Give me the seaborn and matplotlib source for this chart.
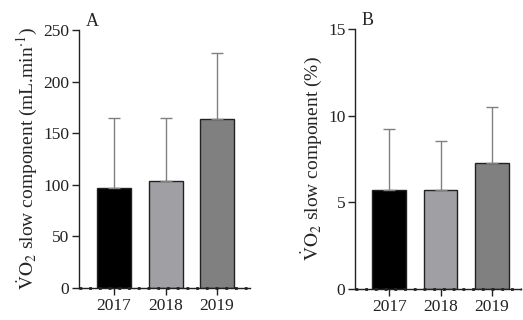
import seaborn as sns
import matplotlib.pyplot as plt
import numpy as np
import pandas as pd

years = ["2017", "2018", "2019"]
colors = ["#000000", "#a0a0a4", "#808080"]

# panel A: absolute slow component (mL.min-1)
abs_mean = [97, 104, 164]
abs_sd = [68, 61, 64]

# panel B: relative slow component (%)
rel_mean = [5.7, 5.7, 7.3]
rel_sd = [3.55, 2.85, 3.2]

sns.set_theme(style="ticks")
plt.rcParams['font.family'] = ['Liberation Serif', 'DejaVu Serif']
plt.rcParams['mathtext.fontset'] = 'stix'

fig = plt.figure(figsize=(5.23, 3.2), dpi=100)
ax_a = fig.add_axes([0.151, 0.100, 0.327, 0.806])
ax_b = fig.add_axes([0.679, 0.097, 0.318, 0.812])


def panel(ax, mean, sd, ylim, yticks, ylabel, letter, xlim):
    df = pd.DataFrame({"year": years, "value": mean})
    sns.barplot(ax=ax, data=df, x="year", y="value", hue="year",
                palette=colors, width=0.66, errorbar=None, legend=False,
                edgecolor="#222222", linewidth=1.0, saturation=1)
    ax.errorbar(np.arange(len(years)), mean, yerr=[np.zeros(len(sd)), sd],
                fmt="none", ecolor="#808080", elinewidth=1.0, capsize=4,
                capthick=1.0, zorder=1)
    ax.set_ylim(*ylim)
    ax.set_yticks(yticks)
    ax.set_xlim(*xlim)
    ax.set_xlabel("")
    ax.set_ylabel(ylabel, fontsize=14, labelpad=3)
    sns.despine(ax=ax)
    for s in ["left", "bottom"]:
        ax.spines[s].set_color("#222222")
        ax.spines[s].set_linewidth(1.0)
    ax.axhline(0, color="#222222", lw=2.0, ls=(0, (1, 2.5)), zorder=5,
               clip_on=False)
    ax.tick_params(axis="both", labelsize=12.5, colors="#222222",
                   length=5, width=1.0, pad=2)
    ax.text(0.04, 1.0, letter, transform=ax.transAxes, fontsize=13,
            va="bottom", ha="left")


panel(ax_a, abs_mean, abs_sd, (0, 250), [0, 50, 100, 150, 200, 250],
      r"$\dot{\mathrm{V}}\mathrm{O}_2$ slow component (mL.min$^{\cdot1}$)",
      "A", (-0.68, 2.64))
panel(ax_b, rel_mean, rel_sd, (0, 15), [0, 5, 10, 15],
      r"$\dot{\mathrm{V}}\mathrm{O}_2$ slow component (%)",
      "B", (-0.667, 2.58))

plt.savefig("out.png", dpi=100)
